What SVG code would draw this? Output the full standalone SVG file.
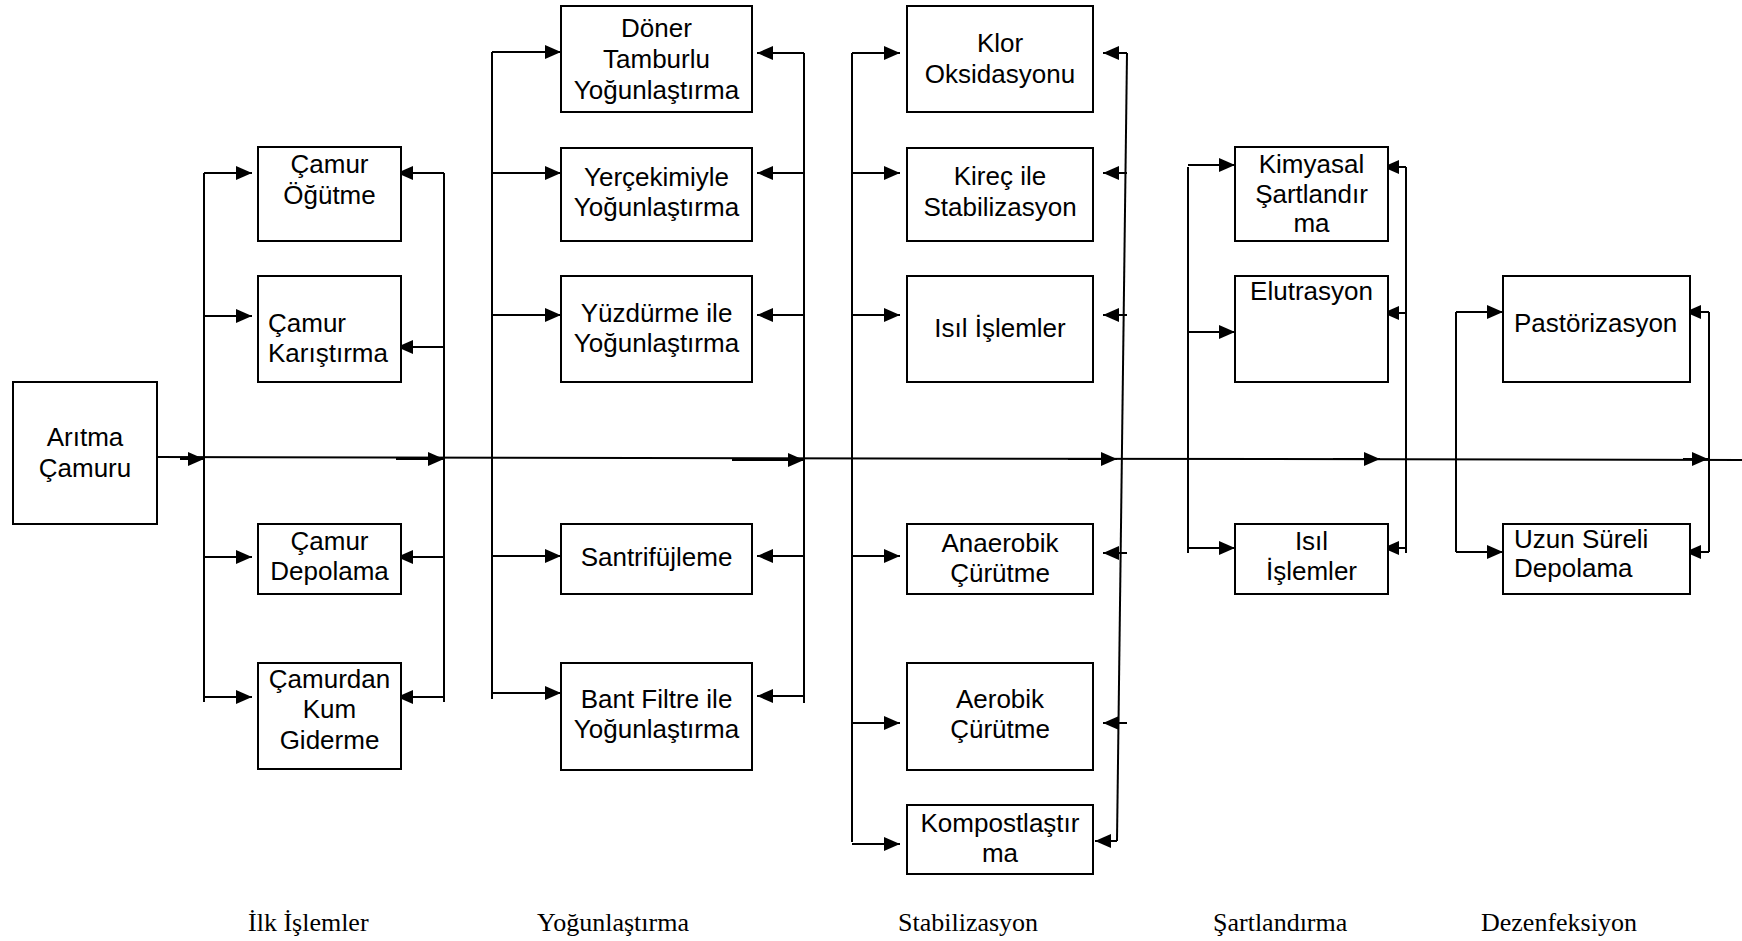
<svg xmlns="http://www.w3.org/2000/svg" width="1742" height="941" viewBox="0 0 1742 941">
<style>
.box{fill:#fff;stroke:#000;stroke-width:2}
.t{font-family:"Liberation Sans",Arial,sans-serif;font-size:26px;fill:#000;text-anchor:middle}
.tl{font-family:"Liberation Sans",Arial,sans-serif;font-size:26px;fill:#000;text-anchor:start}
.lab{font-family:"Liberation Serif","Times New Roman",serif;font-size:26px;fill:#000}
.ln{fill:none;stroke:#000;stroke-width:2}
.ar{fill:none;stroke:#000;stroke-width:2;marker-end:url(#ah)}
</style>
<defs>
<marker id="ah" viewBox="0 0 16 14" refX="16" refY="7" markerWidth="16" markerHeight="14" markerUnits="userSpaceOnUse" orient="auto">
<path d="M0,0L16,7L0,14z" fill="#000"/>
</marker>
</defs>
<rect width="1742" height="941" fill="#fff"/>
<g id="connectors">
<path class="ln" d="M157,457 L1742,460"/>
<path class="ar" d="M180,459 H204"/>
<path class="ar" d="M396,459 H444"/>
<path class="ar" d="M732,460 H804"/>
<path class="ar" d="M1068,459 H1117"/>
<path class="ar" d="M1333,459 H1380"/>
<path class="ar" d="M1683,459 H1708"/>
<!-- column 1 -->
<path class="ln" d="M204,173 V702"/>
<path class="ln" d="M444,173 V702"/>
<path class="ar" d="M204,173 H252"/>
<path class="ar" d="M204,316 H252"/>
<path class="ar" d="M204,557 H252"/>
<path class="ar" d="M204,697 H252"/>
<path class="ar" d="M444,173 H397"/>
<path class="ar" d="M444,347 H397"/>
<path class="ar" d="M444,557 H397"/>
<path class="ar" d="M444,697 H397"/>
<!-- column 2 -->
<path class="ln" d="M492,52 V699"/>
<path class="ln" d="M804,53 V703"/>
<path class="ar" d="M492,52 H561"/>
<path class="ar" d="M492,173 H561"/>
<path class="ar" d="M492,315 H561"/>
<path class="ar" d="M492,556 H561"/>
<path class="ar" d="M492,693 H561"/>
<path class="ar" d="M804,53 H757"/>
<path class="ar" d="M804,173 H757"/>
<path class="ar" d="M804,315 H757"/>
<path class="ar" d="M804,556 H757"/>
<path class="ar" d="M804,696 H757"/>
<!-- column 3 -->
<path class="ln" d="M852,53 V842"/>
<path class="ar" d="M852,53 H900"/>
<path class="ar" d="M852,173 H900"/>
<path class="ar" d="M852,315 H900"/>
<path class="ar" d="M852,556 H900"/>
<path class="ar" d="M852,723 H900"/>
<path class="ar" d="M852,844 H900"/>
<path class="ln" d="M1127,53 L1117,841"/>
<path class="ar" d="M1127,53 H1103"/>
<path class="ar" d="M1127,173 H1103"/>
<path class="ar" d="M1127,315 H1103"/>
<path class="ar" d="M1127,553 H1103"/>
<path class="ar" d="M1127,723 H1103"/>
<path class="ar" d="M1117,841 H1095"/>
<!-- column 4 -->
<path class="ln" d="M1188,167 V553"/>
<path class="ar" d="M1188,165 H1235"/>
<path class="ar" d="M1188,332 H1235"/>
<path class="ar" d="M1188,548 H1235"/>
<path class="ln" d="M1406,167 V553"/>
<path class="ar" d="M1406,167 H1383"/>
<path class="ar" d="M1406,313 H1383"/>
<path class="ar" d="M1406,548 H1383"/>
<!-- column 5 -->
<path class="ln" d="M1456,312 V552"/>
<path class="ar" d="M1456,312 H1503"/>
<path class="ar" d="M1456,552 H1503"/>
<path class="ln" d="M1709,312 V552"/>
<path class="ar" d="M1709,312 H1685"/>
<path class="ar" d="M1709,552 H1685"/>
</g>
<g id="n_aritma"><rect class="box" x="13" y="382" width="144" height="142"/><text class="t" x="85" y="446">Arıtma</text><text class="t" x="85" y="477">Çamuru</text></g>
<g id="n_ogutme"><rect class="box" x="258" y="147" width="143" height="94"/><text class="t" x="329.5" y="173">Çamur</text><text class="t" x="329.5" y="204">Öğütme</text></g>
<g id="n_karistirma"><rect class="box" x="258" y="276" width="143" height="106"/><text class="tl" x="268" y="332">Çamur</text><text class="tl" x="268" y="362">Karıştırma</text></g>
<g id="n_depolama"><rect class="box" x="258" y="524" width="143" height="70"/><text class="t" x="329.5" y="550">Çamur</text><text class="t" x="329.5" y="580">Depolama</text></g>
<g id="n_kum"><rect class="box" x="258" y="663" width="143" height="106"/><text class="t" x="329.5" y="688">Çamurdan</text><text class="t" x="329.5" y="718">Kum</text><text class="t" x="329.5" y="749">Giderme</text></g>
<g id="n_doner"><rect class="box" x="561" y="6" width="191" height="106"/><text class="t" x="656.5" y="37">Döner</text><text class="t" x="656.5" y="68">Tamburlu</text><text class="t" x="656.5" y="99">Yoğunlaştırma</text></g>
<g id="n_yercekim"><rect class="box" x="561" y="148" width="191" height="93"/><text class="t" x="656.5" y="186">Yerçekimiyle</text><text class="t" x="656.5" y="216">Yoğunlaştırma</text></g>
<g id="n_yuzdurme"><rect class="box" x="561" y="276" width="191" height="106"/><text class="t" x="656.5" y="322">Yüzdürme ile</text><text class="t" x="656.5" y="352">Yoğunlaştırma</text></g>
<g id="n_santrifuj"><rect class="box" x="561" y="524" width="191" height="70"/><text class="t" x="656.5" y="566">Santrifüjleme</text></g>
<g id="n_bant"><rect class="box" x="561" y="663" width="191" height="107"/><text class="t" x="656.5" y="708">Bant Filtre ile</text><text class="t" x="656.5" y="738">Yoğunlaştırma</text></g>
<g id="n_klor"><rect class="box" x="907" y="6" width="186" height="106"/><text class="t" x="1000" y="52">Klor</text><text class="t" x="1000" y="83">Oksidasyonu</text></g>
<g id="n_kirec"><rect class="box" x="907" y="148" width="186" height="93"/><text class="t" x="1000" y="185">Kireç ile</text><text class="t" x="1000" y="216">Stabilizasyon</text></g>
<g id="n_isil"><rect class="box" x="907" y="276" width="186" height="106"/><text class="t" x="1000" y="337">Isıl İşlemler</text></g>
<g id="n_anaerobik"><rect class="box" x="907" y="524" width="186" height="70"/><text class="t" x="1000" y="552">Anaerobik</text><text class="t" x="1000" y="582">Çürütme</text></g>
<g id="n_aerobik"><rect class="box" x="907" y="663" width="186" height="107"/><text class="t" x="1000" y="708">Aerobik</text><text class="t" x="1000" y="738">Çürütme</text></g>
<g id="n_kompost"><rect class="box" x="907" y="805" width="186" height="69"/><text class="t" x="1000" y="832">Kompostlaştır</text><text class="t" x="1000" y="862">ma</text></g>
<g id="n_kimyasal"><rect class="box" x="1235" y="147" width="153" height="94"/><text class="t" x="1311.5" y="173">Kimyasal</text><text class="t" x="1311.5" y="203">Şartlandır</text><text class="t" x="1311.5" y="232">ma</text></g>
<g id="n_elutrasyon"><rect class="box" x="1235" y="276" width="153" height="106"/><text class="t" x="1311.5" y="300">Elutrasyon</text></g>
<g id="n_isil2"><rect class="box" x="1235" y="524" width="153" height="70"/><text class="t" x="1311.5" y="550">Isıl</text><text class="t" x="1311.5" y="580">İşlemler</text></g>
<g id="n_pastor"><rect class="box" x="1503" y="276" width="187" height="106"/><text class="tl" x="1514" y="332">Pastörizasyon</text></g>
<g id="n_uzun"><rect class="box" x="1503" y="524" width="187" height="70"/><text class="tl" x="1514" y="548">Uzun Süreli</text><text class="tl" x="1514" y="577">Depolama</text></g>
<g id="labels">
<text class="lab" x="248" y="931">İlk İşlemler</text>
<text class="lab" x="537" y="931">Yoğunlaştırma</text>
<text class="lab" x="898" y="931">Stabilizasyon</text>
<text class="lab" x="1213" y="931">Şartlandırma</text>
<text class="lab" x="1481" y="931">Dezenfeksiyon</text>
</g>
</svg>
